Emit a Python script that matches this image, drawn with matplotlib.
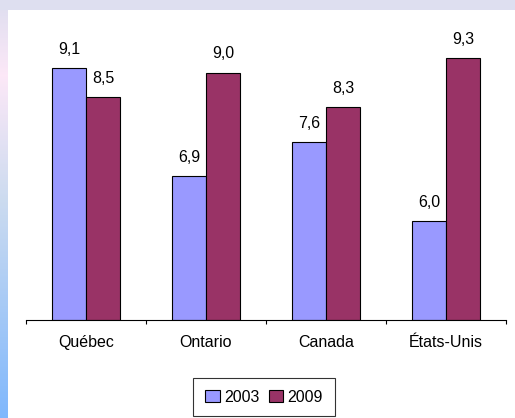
import matplotlib
matplotlib.use("Agg")
import matplotlib.pyplot as plt
import numpy as np
from matplotlib.patches import Rectangle

plt.rcParams['font.family'] = ['Liberation Sans', 'DejaVu Sans']

categories = ['Québec', 'Ontario', 'Canada', 'États-Unis']
years = ['2003', '2009']
val_2003 = [9.1, 6.9, 7.6, 6.0]
val_2009 = [8.5, 9.0, 8.3, 9.3]
labels_2003 = ['9,1', '6,9', '7,6', '6,0']
labels_2009 = ['8,5', '9,0', '8,3', '9,3']

W, H = 515, 418
fig = plt.figure(figsize=(W / 100, H / 100), dpi=100)
fig.patch.set_facecolor('white')

# background frame: lavender strip on top, gradient strip on the left
bg = fig.add_axes([0, 0, 1, 1], zorder=-10)
bg.set_xlim(0, W)
bg.set_ylim(H, 0)
bg.axis('off')
stops_y = [0, 75, 200, 418]
stops_c = np.array([[0.87, 0.87, 0.94], [0.99, 0.91, 0.97], [0.80, 0.86, 0.94], [0.50, 0.72, 0.99]])
yy = np.arange(H)
grad = np.stack([np.interp(yy, stops_y, stops_c[:, k]) for k in range(3)], axis=-1)
bg.imshow(grad[:, None, :], extent=[0, 8, H, 0], aspect='auto', interpolation='bilinear')
bg.add_patch(Rectangle((0, 0), W, 10, color='#dedff0', lw=0))

ax = fig.add_axes([26 / W, 98 / H, 480 / W, 297 / H])
ax.set_facecolor('none')

x = np.arange(len(categories))
w = 0.285
b1 = ax.bar(x - w / 2, np.array(val_2003) - 4, w, bottom=4, color='#9999ff',
            edgecolor='black', linewidth=0.8, label=years[0])
b2 = ax.bar(x + w / 2, np.array(val_2009) - 4, w, bottom=4, color='#993366',
            edgecolor='black', linewidth=0.8, label=years[1])

for xi, v, lab in zip(x - w / 2, val_2003, labels_2003):
    ax.annotate(lab, (xi, v), xytext=(0, 11), textcoords='offset pixels',
                ha='center', va='bottom', fontsize=11.5)
for xi, v, lab in zip(x + w / 2, val_2009, labels_2009):
    ax.annotate(lab, (xi, v), xytext=(0, 11), textcoords='offset pixels',
                ha='center', va='bottom', fontsize=11.5)

ax.set_xlim(-0.5, 3.5)
ax.set_ylim(4, 10)
ax.set_yticks([])
for s in ['left', 'top', 'right']:
    ax.spines[s].set_visible(False)
ax.spines['bottom'].set_linewidth(0.8)
ax.set_xticks(x)
ax.set_xticklabels(categories, fontsize=11.5)
ax.tick_params(axis='x', which='major', length=0, pad=11)
ax.set_xticks(np.arange(-0.5, 4, 1), minor=True)
ax.tick_params(axis='x', which='minor', length=3, width=0.8, direction='out')

leg = fig.legend(handles=[b1, b2], loc='center', bbox_to_anchor=(264 / W, 1 - 397 / H),
                 ncol=2, fontsize=11.5, frameon=True, fancybox=False, edgecolor='black',
                 handlelength=0.9, handleheight=0.7, handletextpad=0.25, columnspacing=0.6,
                 borderpad=0.75)
leg.get_frame().set_linewidth(0.8)

fig.savefig('out.png', dpi=100)
